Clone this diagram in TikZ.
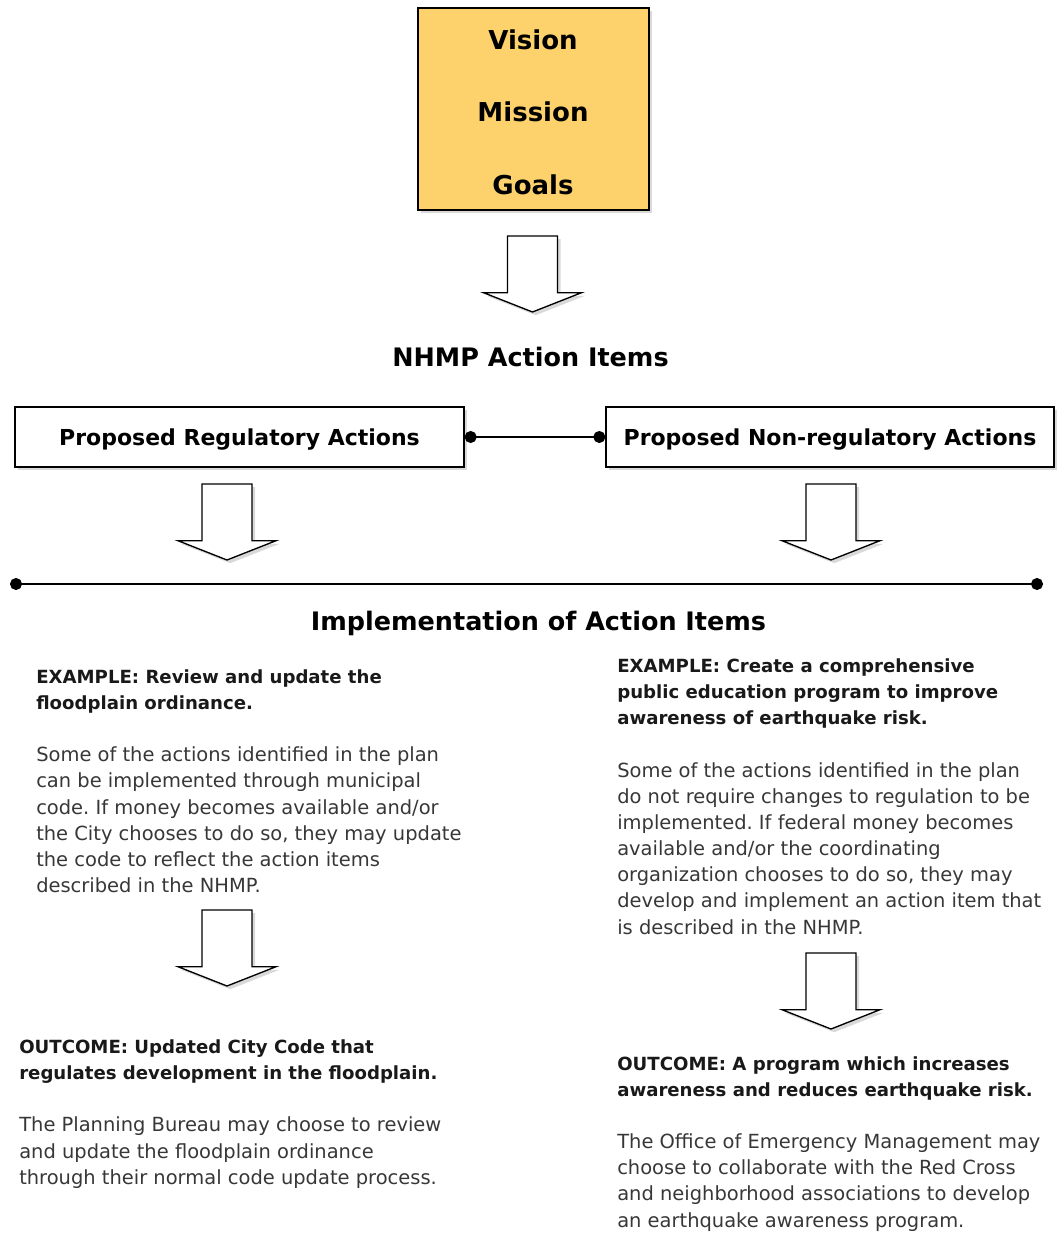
\documentclass[tikz,border=0pt]{standalone}
\usepackage{fontspec}
\setmainfont{DejaVu Sans}
\usetikzlibrary{shadows,arrows.meta}
\definecolor{gold}{RGB}{253,210,108}
\definecolor{bodygray}{RGB}{55,55,55}
\definecolor{headgray}{RGB}{25,25,25}
\newcommand\blockarr[2]{%
  \filldraw[arrowsty] (#1-25,#2) -- (#1+25,#2) -- (#1+25,#2+56.7) -- (#1+49,#2+56.7)
    -- (#1,#2+76) -- (#1-49,#2+56.7) -- (#1-25,#2+56.7) -- cycle;}
\begin{document}
\frenchspacing
\begin{tikzpicture}[x=0.75pt,y=-0.75pt,
  shd/.style={drop shadow={opacity=0.3,shadow xshift=2.4pt,shadow yshift=-2.4pt}},
  goldbox/.style={draw=black,line width=1pt,fill=gold,shd,minimum width=173.25pt,minimum height=151.5pt,inner sep=0pt},
  actbox/.style={draw=black,line width=1pt,fill=white,shd,minimum height=45pt,inner sep=0pt,
     font=\fontsize{16.5}{20}\selectfont\bfseries,text depth=0pt},
  arrowsty/.style={draw=black,line width=1pt,fill=white,line join=miter,shd},
  vmg/.style={font=\fontsize{19.5}{22}\selectfont\bfseries,anchor=base,inner sep=0pt},
  title/.style={font=\fontsize{19.1}{22}\selectfont\bfseries,anchor=base,inner sep=0pt},
  head/.style={font=\fontsize{13.6}{19.8}\selectfont\bfseries,text=headgray,align=left,anchor=base west,inner sep=0pt},
  body/.style={font=\fontsize{14.6}{19.6}\selectfont,text=bodygray,align=left,anchor=base west,inner sep=0pt},
  conn/.style={draw=black,line width=1.1pt,{Circle[length=9pt]}-{Circle[length=9pt]}}
]
\useasboundingbox (0,0) rectangle (1058,1234);
% top box
\node[goldbox] (vmgbox) at (533.5,109) {};
\node[vmg] (vision) at (533,50) {Vision};
\node[vmg] (mission) at (533,121.7) {Mission};
\node[vmg] (goals) at (533,195) {Goals};
\blockarr{532.5}{236}
\node[title] (nhmp) at (530.5,366) {NHMP Action Items};
% action boxes
\node[actbox,minimum width=336.75pt] (regL) at (239.5,437) {Proposed Regulatory Actions};
\node[actbox,minimum width=336pt] (regR) at (830,437) {Proposed Non-regulatory Actions};
\draw[conn] (regL.east) -- (regR.west);
\blockarr{227}{484}
\blockarr{831}{484}
% implementation line
\coordinate (lineL) at (10,584);
\coordinate (lineR) at (1043,584);
\draw[conn] (lineL) -- (lineR);
\node[title] (impl) at (538.5,630) {Implementation of Action Items};
% left column (anchors are at the baseline of the last line)
\node[head] (exL) at (36,709.4) {EXAMPLE: Review and update the\\floodplain ordinance.};
\node[body] (exLb) at (36,892.5) {Some of the actions identified in the plan\\can be implemented through municipal\\code. If money becomes available and/or\\the City chooses to do so, they may update\\the code to reflect the action items\\described in the NHMP.};
\blockarr{227}{910}
\node[head] (outL) at (19,1079.4) {OUTCOME: Updated City Code that\\regulates development in the floodplain.};
\node[body] (outLb) at (19,1184.2) {The Planning Bureau may choose to review\\and update the floodplain ordinance\\through their normal code update process.};
% right column
\node[head] (exR) at (617,724.8) {EXAMPLE: Create a comprehensive\\public education program to improve\\awareness of earthquake risk.};
\node[body] (exRb) at (617,934) {Some of the actions identified in the plan\\do not require changes to regulation to be\\implemented. If federal money becomes\\available and/or the coordinating\\organization chooses to do so, they may\\develop and implement an action item that\\is described in the NHMP.};
\blockarr{831}{953}
\node[head] (outR) at (617,1096.4) {OUTCOME: A program which increases\\awareness and reduces earthquake risk.};
\node[body] (outRb) at (617,1227) {The Office of Emergency Management may\\choose to collaborate with the Red Cross\\and neighborhood associations to develop\\an earthquake awareness program.};
\end{tikzpicture}
\end{document}
